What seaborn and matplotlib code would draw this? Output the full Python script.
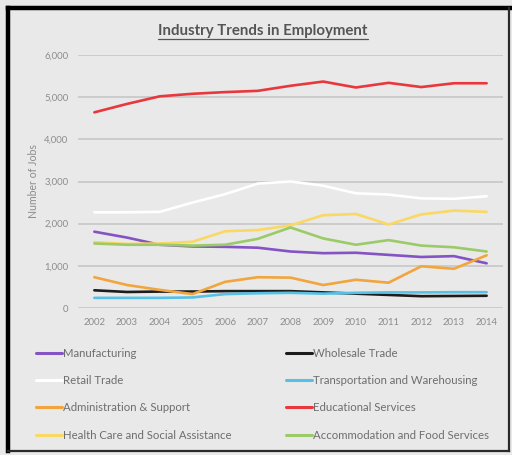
import matplotlib
matplotlib.use("Agg")
import matplotlib.pyplot as plt
from matplotlib.lines import Line2D
import seaborn as sns
import pandas as pd

# Employment by industry, thousands of jobs
years = ["2002", "2003", "2004", "2005", "2006", "2007", "2008",
         "2009", "2010", "2011", "2012", "2013", "2014"]

manufacturing = [1810, 1670, 1500, 1460, 1450, 1430, 1340, 1300, 1310, 1260, 1210, 1230, 1060]
wholesale = [420, 380, 390, 390, 400, 400, 400, 370, 340, 310, 280, 285, 290]
retail = [2270, 2270, 2280, 2500, 2700, 2950, 3000, 2900, 2720, 2690, 2600, 2590, 2650]
transportation = [240, 240, 240, 250, 330, 350, 360, 340, 360, 370, 370, 375, 375]
admin_support = [730, 545, 430, 330, 620, 730, 720, 545, 670, 600, 990, 930, 1250]
educational = [4640, 4840, 5020, 5080, 5120, 5150, 5270, 5370, 5230, 5340, 5240, 5330, 5330]
health_care = [1560, 1520, 1530, 1570, 1820, 1850, 1960, 2200, 2230, 1980, 2220, 2310, 2280]
accommodation = [1530, 1500, 1500, 1480, 1500, 1640, 1910, 1650, 1500, 1610, 1480, 1440, 1340]

series = {
    "Manufacturing": manufacturing,
    "Wholesale Trade": wholesale,
    "Retail Trade": retail,
    "Transportation and Warehousing": transportation,
    "Administration & Support": admin_support,
    "Educational Services": educational,
    "Health Care and Social Assistance": health_care,
    "Accommodation and Food Services": accommodation,
}

palette = {
    "Manufacturing": "#8453c4",
    "Wholesale Trade": "#1c1c1c",
    "Retail Trade": "#ffffff",
    "Transportation and Warehousing": "#55c1e6",
    "Administration & Support": "#f2a53c",
    "Educational Services": "#e8383d",
    "Health Care and Social Assistance": "#f9d864",
    "Accommodation and Food Services": "#9acb68",
}

rows = []
for name, vals in series.items():
    for i, v in enumerate(vals):
        rows.append({"Industry": name, "idx": i, "Jobs": v})
df = pd.DataFrame(rows)

sns.set_theme(style="white")
plt.rcParams["font.family"] = ["Lato", "DejaVu Sans"]

BG = "#e9e9e9"
W, H = 512, 455
fig = plt.figure(figsize=(W / 100, H / 100), dpi=100, facecolor=BG)

ax = fig.add_axes([78 / W, (H - 308) / H, (503 - 78) / W, (308 - 55) / H])
ax.set_facecolor(BG)

sns.lineplot(data=df, x="idx", y="Jobs", hue="Industry", palette=palette,
             hue_order=list(series.keys()), linewidth=1.9, legend=False,
             ax=ax, zorder=3)

ax.set_xlim(-0.5, len(years) - 0.5)
ax.set_ylim(0, 6000)
ax.set_xticks(range(len(years)))
ax.set_xticklabels(years)
yt = [0, 1000, 2000, 3000, 4000, 5000, 6000]
ax.set_yticks(yt)
ax.set_yticklabels(["0" if v == 0 else f"{v:,}" for v in yt])
ax.tick_params(axis="both", length=0, labelsize=6.9, colors="#8c8c8c")
ax.tick_params(axis="y", pad=7)
ax.tick_params(axis="x", pad=7.5)
ax.grid(axis="y", color="#c9c9c9", linewidth=1.3, zorder=0)
ax.grid(axis="x", visible=False)
for s in ax.spines.values():
    s.set_visible(False)
ax.set_xlabel("")
ax.set_ylabel("Number of Jobs", fontsize=7.6, color="#8c8c8c")
ax.yaxis.set_label_coords(-39 / (503 - 78), 0.5)

# Title with underline
title = fig.text(263 / W, (H - 31) / H, "Industry Trends in Employment",
                 ha="center", va="center", fontsize=10.8, fontweight="bold",
                 color="#555555")
fig.canvas.draw()
bb = title.get_window_extent().transformed(fig.transFigure.inverted())
fig.add_artist(Line2D([bb.x0, bb.x1], [bb.y0 - 1 / H, bb.y0 - 1 / H],
                      transform=fig.transFigure, color="#555555", linewidth=0.9))

# Legend in two columns
names = list(series.keys())
left_col = names[0::2]
right_col = names[1::2]


def make_legend(labels, x):
    handles = [Line2D([0], [0], color=palette[n], linewidth=2.2) for n in labels]
    leg = fig.legend(handles, labels, loc="upper left",
                     bbox_to_anchor=(x / W, (H - 348) / H),
                     frameon=False, fontsize=8.2, handlelength=2.25,
                     handletextpad=0.15, labelspacing=1.42,
                     borderaxespad=0, borderpad=0)
    for t in leg.get_texts():
        t.set_color("#6e6e6e")
    return leg


make_legend(left_col, 36)
make_legend(right_col, 286)

# Outer frame
frame_kw = dict(transform=fig.transFigure, solid_capstyle="projecting")
fig.add_artist(Line2D([8 / W, 8 / W], [(H - 8) / H, (H - 450.5) / H],
                      color="#000000", linewidth=3.2, **frame_kw))
fig.add_artist(Line2D([8 / W, 1.0], [(H - 8) / H, (H - 8) / H],
                      color="#000000", linewidth=3.2, **frame_kw))
fig.add_artist(Line2D([8 / W, 509 / W], [(H - 450.5) / H, (H - 450.5) / H],
                      color="#2a2a2a", linewidth=1.6, **frame_kw))
fig.add_artist(Line2D([509 / W, 509 / W], [(H - 8) / H, (H - 450.5) / H],
                      color="#2a2a2a", linewidth=1.6, **frame_kw))

fig.savefig("out.png", dpi=100, facecolor=BG)
